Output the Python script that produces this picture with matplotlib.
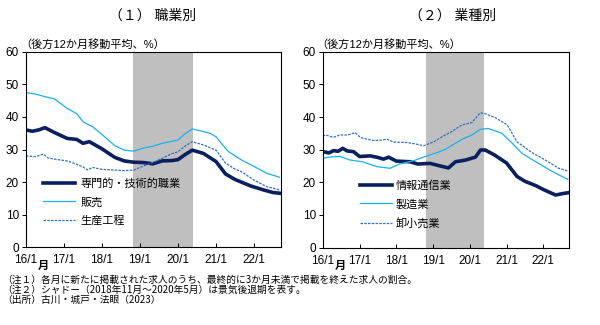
import numpy as np
import matplotlib
matplotlib.use('Agg')
import matplotlib.pyplot as plt

plt.rcParams['font.family'] = ['Liberation Sans', 'Noto Sans CJK JP', 'DejaVu Sans']

# months since 2016/1
tick_pos = [0, 12, 24, 36, 48, 60, 72]
tick_labels = ['16/1', '17/1', '18/1', '19/1', '20/1', '21/1', '22/1']
shade_start, shade_end = 33.8, 52.7

# (1) by occupation
x_pro = [0, 2, 4, 6, 9, 13, 16, 18, 20, 24, 28, 31, 34, 37, 40, 43, 46, 48, 50, 52.5,
         56, 60, 63, 66, 68, 71, 75, 78, 80]
v_pro = [36.0, 35.6, 36.0, 36.7, 35.2, 33.4, 33.1, 31.9, 32.4, 30.2, 27.6, 26.5, 26.1, 26.0,
         25.6, 26.5, 26.6, 26.9, 28.3, 29.8, 28.8, 26.3, 22.5, 20.8, 20.0, 18.8, 17.6, 16.8, 16.6]
x_sales = [0, 3, 6, 9, 13, 16, 18, 21, 24, 28, 31, 34, 37, 40, 43, 46, 48, 50, 52.5,
           56, 58, 60, 62, 64, 68, 72, 76, 80]
v_sales = [47.5, 47.0, 46.2, 45.5, 42.6, 41.0, 38.5, 37.0, 34.6, 31.2, 29.8, 29.5, 30.4, 31.0,
           31.9, 32.5, 32.9, 34.7, 36.3, 35.5, 35.0, 33.9, 31.5, 29.3, 26.8, 24.8, 22.7, 21.5]
x_prod = [0, 3, 5.5, 7, 10, 13, 16, 18, 19.5, 21, 24, 28, 31, 34, 37, 40, 43, 46, 48, 50,
          52.5, 56, 60, 63, 66, 68, 72, 76, 80]
v_prod = [28.0, 27.8, 28.6, 27.4, 26.9, 26.5, 25.5, 24.6, 23.7, 24.5, 23.9, 23.7, 23.5, 23.7,
          24.9, 26.0, 27.3, 28.7, 29.3, 30.9, 32.4, 31.4, 29.8, 25.8, 24.0, 23.2, 20.6, 18.6, 17.6]

# (2) by industry
x_it = [0, 2, 3.5, 5, 6.5, 8, 10, 12, 15.5, 18, 19.8, 21.5, 24, 28.5, 31, 35, 38.4, 41,
        43.3, 46.5, 49.8, 51.5, 53, 56, 60, 63.4, 66, 69.5, 72, 76, 78, 80]
v_it = [29.4, 29.0, 29.7, 29.5, 30.4, 29.6, 29.4, 27.9, 28.1, 27.6, 27.1, 27.7, 26.5, 26.3,
        25.6, 25.8, 25.0, 24.4, 26.3, 26.8, 27.7, 29.9, 29.9, 28.4, 25.9, 21.8, 20.3, 19.0,
        17.8, 16.1, 16.5, 16.8]
x_mfg = [0, 3, 5.6, 9, 13, 17.6, 22, 25, 29.6, 34, 37, 40, 43, 45.5, 48.7, 51.4, 54, 58.5,
         61.8, 65, 69.5, 74, 77, 80]
v_mfg = [27.4, 27.8, 27.9, 26.8, 26.3, 24.8, 24.3, 25.6, 26.6, 28.1, 29.0, 30.1, 31.8, 33.2,
         34.5, 36.2, 36.5, 35.0, 32.0, 28.9, 26.3, 23.8, 22.3, 20.9]
x_whl = [0, 1, 2.5, 3.5, 5.6, 8, 10.6, 12.2, 14, 16.5, 19, 21, 23, 27.5, 30, 33, 36.2, 40,
         42, 45.5, 48.7, 51.4, 53, 56.3, 60.2, 63.4, 68.3, 72.7, 77, 80]
v_whl = [34.2, 34.5, 34.0, 33.8, 34.5, 34.5, 35.2, 33.8, 33.3, 32.8, 32.9, 33.2, 32.3, 32.2,
         31.8, 31.2, 32.4, 34.5, 35.5, 37.6, 38.3, 41.3, 41.0, 39.8, 37.6, 32.4, 29.1, 26.8,
         24.3, 23.5]

navy = '#0b1f5e'
light = '#1ab0ef'
dashc = '#2f6fc0'

fig = plt.figure(figsize=(6, 3.25), dpi=100)
ax1 = fig.add_axes([0.0433, 0.239, 0.425, 0.602])
ax2 = fig.add_axes([0.538, 0.238, 0.411, 0.603])


def style(ax):
    ax.axvspan(shade_start, shade_end, color='#bfbfbf', lw=0, zorder=0)
    ax.set_xlim(0, 80.5)
    ax.set_ylim(0, 60)
    ax.set_yticks(range(0, 61, 10))
    ax.set_xticks(tick_pos)
    ax.set_xticklabels(tick_labels)
    ax.tick_params(axis='x', direction='in', length=3, labelsize=8.5, pad=5, width=0.7)
    ax.tick_params(axis='y', direction='out', length=3, labelsize=8.5, pad=2, width=0.7)
    for s in ax.spines.values():
        s.set_linewidth(0.8)


style(ax1)
ax1.plot(x_pro, v_pro, color=navy, lw=2.6, label='専門的・技術的職業')
ax1.plot(x_sales, v_sales, color=light, lw=0.9, label='販売')
ax1.plot(x_prod, v_prod, color=dashc, lw=0.9, ls=(0, (2, 1)), label='生産工程')
ax1.legend(loc='upper left', bbox_to_anchor=(0.067, 0.354), frameon=False, fontsize=8,
           handlelength=2.9, handletextpad=0.45, labelspacing=0.75, borderpad=0,
           borderaxespad=0)

style(ax2)
ax2.plot(x_it, v_it, color=navy, lw=2.6, label='情報通信業')
ax2.plot(x_mfg, v_mfg, color=light, lw=0.9, label='製造業')
ax2.plot(x_whl, v_whl, color=dashc, lw=0.9, ls=(0, (2, 1)), label='卸小売業')
ax2.legend(loc='upper left', bbox_to_anchor=(0.151, 0.345), frameon=False, fontsize=8,
           handlelength=2.9, handletextpad=0.3, labelspacing=0.75, borderpad=0,
           borderaxespad=0)

fig.text(153 / 600, 1 - 16 / 325, '（１） 職業別', ha='center', va='center', fontsize=10)
fig.text(453 / 600, 1 - 16 / 325, '（２） 業種別', ha='center', va='center', fontsize=10)
for x0 in (20, 316):
    fig.text(x0 / 600, 1 - 45 / 325, '（後方12か月移動平均、%）', ha='left', va='center',
             fontsize=8)
for x0 in (43, 340):
    fig.text(x0 / 600, 1 - 266 / 325, '月', ha='center', va='center', fontsize=8,
             fontweight='bold')

notes = ['（注１）各月に新たに掲載された求人のうち、最終的に3か月未満で掲載を終えた求人の割合。',
         '（注２）シャドー（2018年11月～2020年5月）は景気後退期を表す。',
         '（出所）古川・城戸・法眼（2023）']
for i, t in enumerate(notes):
    fig.text(2 / 600, 1 - (280 + 9.7 * i) / 325, t, ha='left', va='center', fontsize=7.0,
             family=['Noto Sans CJK JP', 'DejaVu Sans'])

plt.savefig('out.png', dpi=100)
